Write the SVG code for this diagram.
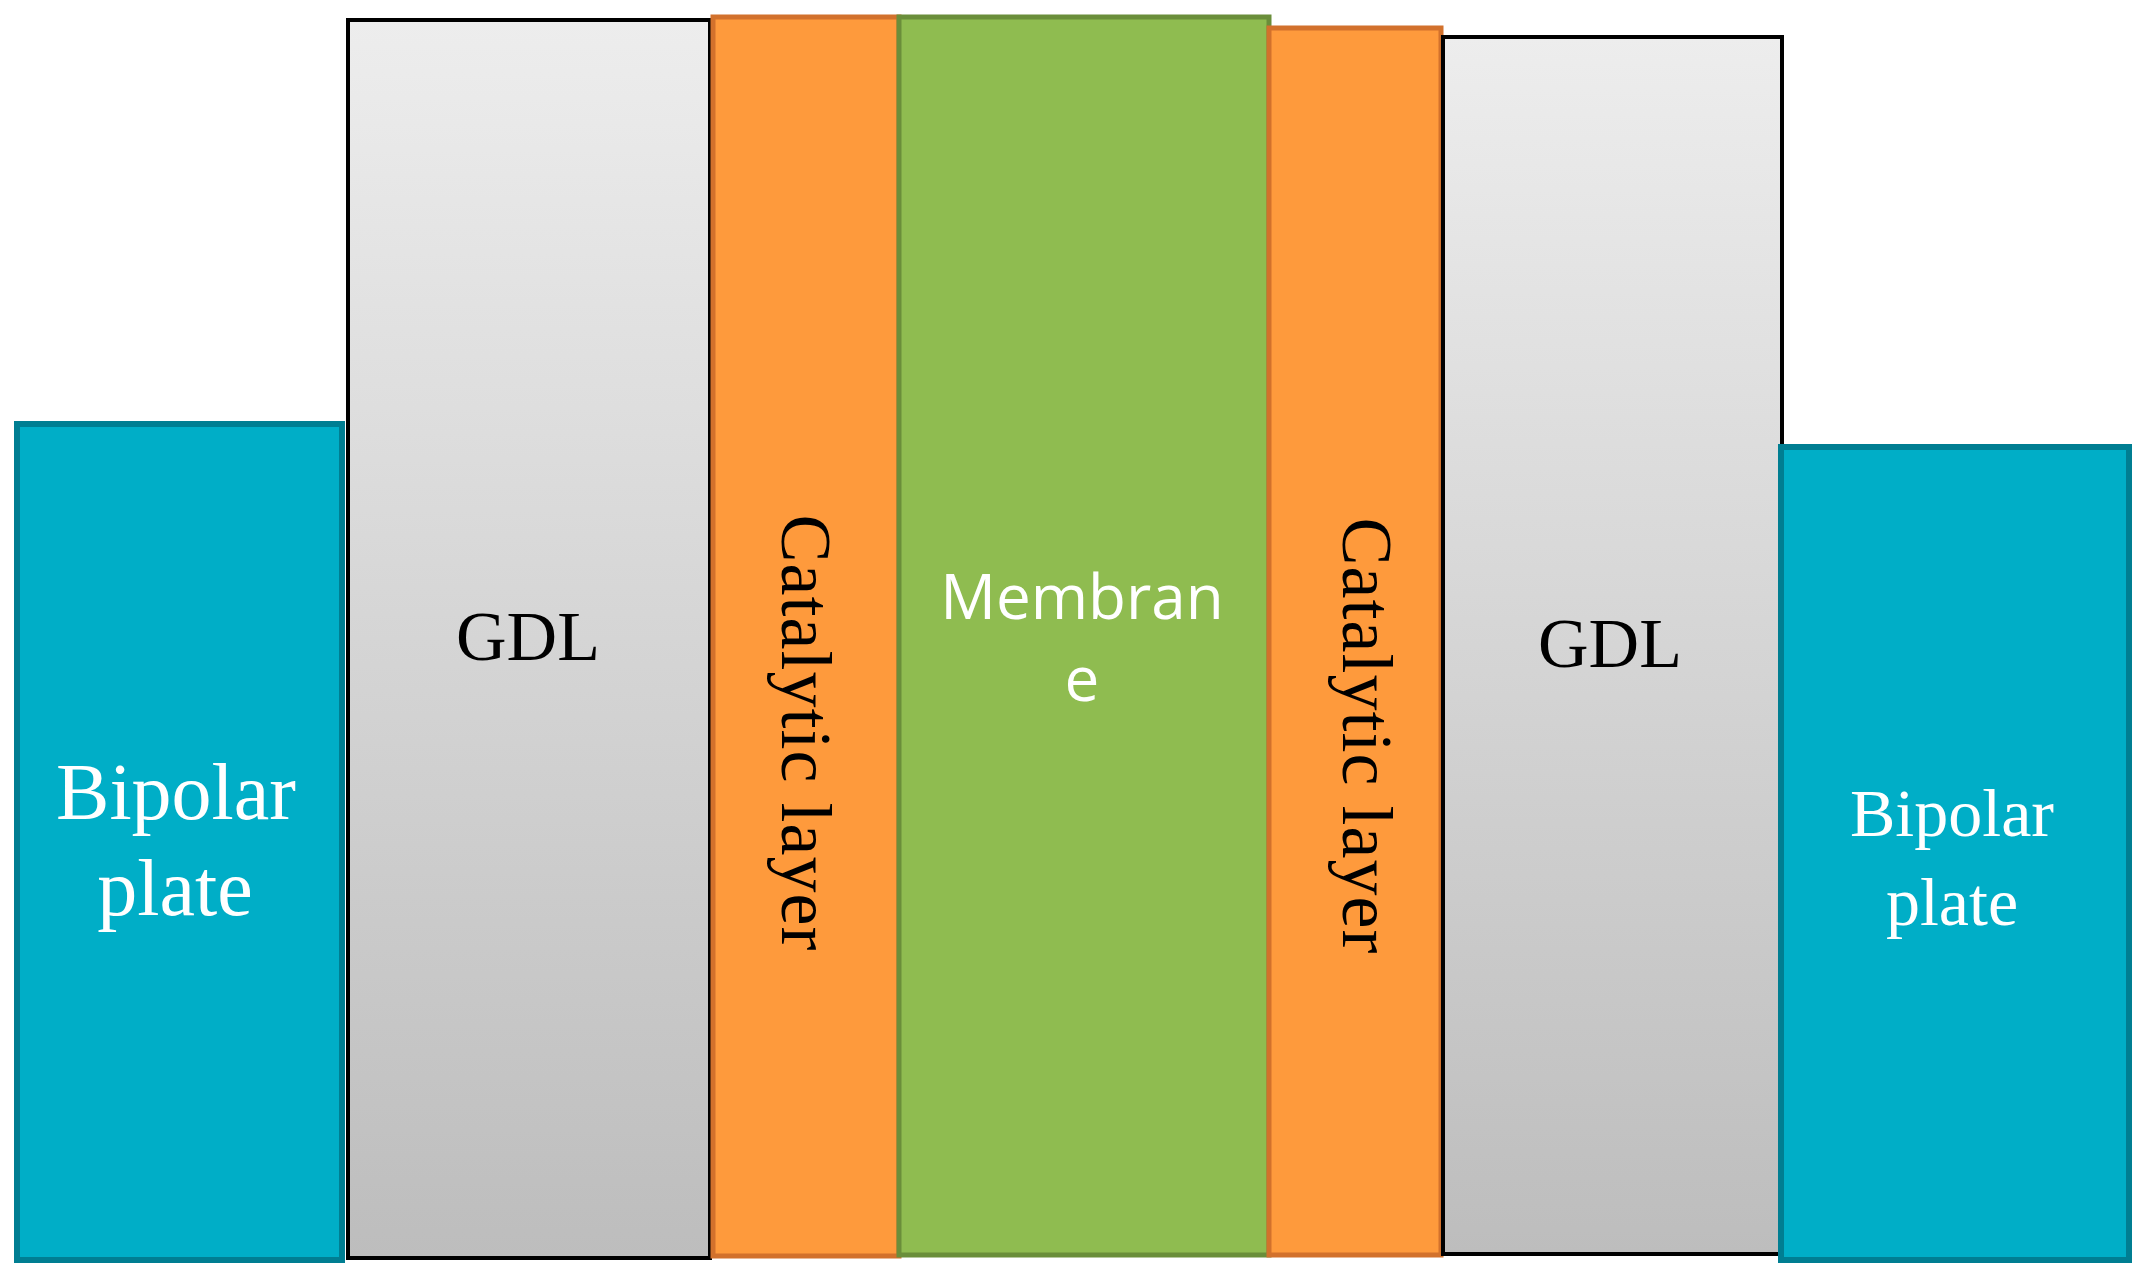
<svg xmlns="http://www.w3.org/2000/svg" width="2148" height="1288" viewBox="0 0 2148 1288">
<defs>
<linearGradient id="g" x1="0" y1="0" x2="0" y2="1"><stop offset="0" stop-color="#ededed"/><stop offset="1" stop-color="#bdbdbd"/></linearGradient>
<style>
.bp{fill:#00aec7;stroke:#007e92;stroke-width:6}
.gdl{fill:url(#g);stroke:#000;stroke-width:4}
.cat{fill:#fe9a3c;stroke:#d2712c;stroke-width:5}
.mem{fill:#8fbc50;stroke:#6a8e3a;stroke-width:5}
.t{font-family:"Liberation Serif",serif;text-anchor:middle}
.s{font-family:"Open Sans",sans-serif;text-anchor:middle;fill:#fff}
</style>
</defs>
<rect width="2148" height="1288" fill="#fff"/>
<g id="bipolar-left"><rect class="bp" x="17" y="424" width="325" height="836"/>
<text class="t" fill="#fff" font-size="80" x="176" y="819">Bipolar</text><text class="t" fill="#fff" font-size="80" x="175" y="915">plate</text></g>
<g id="gdl-left"><rect class="gdl" x="348" y="20" width="362" height="1238"/>
<text class="t" font-size="70" x="528" y="660">GDL</text></g>
<g id="cat-left"><rect class="cat" x="713" y="17" width="186" height="1239"/>
<text class="t" font-size="72" letter-spacing="1" transform="translate(782,733) rotate(90)">Catalytic  layer</text></g>
<g id="membrane"><rect class="mem" x="899" y="17" width="370" height="1238"/>
<text class="s" font-size="62" x="1082" y="619">Membran</text><text class="s" font-size="62" x="1082" y="701">e</text></g>
<g id="cat-right"><rect class="cat" x="1269" y="28" width="172" height="1227"/>
<text class="t" font-size="72" letter-spacing="1" transform="translate(1343,736) rotate(90)">Catalytic  layer</text></g>
<g id="gdl-right"><rect class="gdl" x="1443" y="37" width="339" height="1217"/>
<text class="t" font-size="70" x="1610" y="667">GDL</text></g>
<g id="bipolar-right"><rect class="bp" x="1781" y="447" width="348" height="813"/>
<text class="t" fill="#fff" font-size="68" x="1952" y="836">Bipolar</text><text class="t" fill="#fff" font-size="68" x="1952" y="925">plate</text></g>
<g id="connectors"/>
</svg>
